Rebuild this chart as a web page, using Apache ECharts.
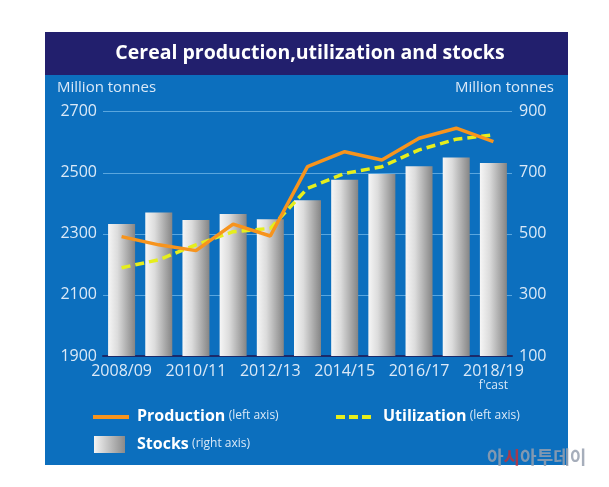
<!DOCTYPE html>
<html>
<head>
<meta charset="utf-8">
<script src="https://cdn.jsdelivr.net/npm/echarts@6/dist/echarts.min.js"></script>
<style>
html,body{margin:0;padding:0;background:#ffffff;}
#chart{width:609px;height:487px;}
</style>
</head>
<body>
<div id="chart"></div>
<script>
const categories = ['2008/09','2009/10','2010/11','2011/12','2012/13','2013/14','2014/15','2015/16','2016/17','2017/18','2018/19'];
const production = [2291, 2264, 2245, 2332, 2293, 2520, 2569, 2542, 2613, 2646, 2602];
const utilization = [2189, 2215, 2264, 2307, 2318, 2449, 2498, 2520, 2575, 2610, 2624];
const stocks = [532, 570, 545, 565, 548, 610, 677, 696, 721, 750, 732];
const leftTicks = [1900, 2100, 2300, 2500, 2700];
const rightTicks = [100, 300, 500, 700, 900];

const FONT = '"Open Sans", "Noto Sans", sans-serif';
const BLUE = '#0c6fbe';
const NAVY = '#221f6d';
const TXT = '#dbe9f7';

const chart = echarts.init(document.getElementById('chart'), null, {renderer: 'canvas'});
const option = {
  backgroundColor: '#ffffff',
  animation: false,
  textStyle: {fontFamily: FONT},
  graphic: [
    {type: 'rect', z: -10, shape: {x: 45, y: 32, width: 523, height: 433}, style: {fill: BLUE}},
    {type: 'rect', z: -9, shape: {x: 45, y: 32, width: 523, height: 43}, style: {fill: NAVY}},
    {type: 'text', x: 310, y: 53, style: {text: 'Cereal production,utilization and stocks', fill: '#ffffff', font: 'bold 19.5px ' + FONT, textAlign: 'center', textVerticalAlign: 'middle'}},
    {type: 'text', x: 57, y: 88, style: {text: 'Million tonnes', fill: TXT, font: '15px ' + FONT, textAlign: 'left', textVerticalAlign: 'middle'}},
    {type: 'text', x: 554, y: 88, style: {text: 'Million tonnes', fill: TXT, font: '15px ' + FONT, textAlign: 'right', textVerticalAlign: 'middle'}},
    // legend
    {type: 'line', shape: {x1: 93, y1: 417, x2: 129, y2: 417}, style: {stroke: '#f7941d', lineWidth: 4}},
    {type: 'text', x: 137, y: 416, style: {rich: {b: {fill: '#ffffff', font: 'bold 16px ' + FONT}, s: {fill: TXT, font: '12px ' + FONT}}, text: '{b|Production} {s|(left axis)}', textVerticalAlign: 'middle'}},
    {type: 'line', shape: {x1: 336, y1: 417, x2: 372, y2: 417}, style: {stroke: '#e6ee1c', lineWidth: 4, lineDash: [9, 4]}},
    {type: 'text', x: 383, y: 416, style: {rich: {b: {fill: '#ffffff', font: 'bold 16px ' + FONT}, s: {fill: TXT, font: '12px ' + FONT}}, text: '{b|Utilization} {s|(left axis)}', textVerticalAlign: 'middle'}},
    {type: 'rect', shape: {x: 94, y: 436, width: 31, height: 17}, style: {fill: {type: 'linear', x: 0, y: 0, x2: 1, y2: 0, colorStops: [{offset: 0, color: '#f4f4f4'}, {offset: 1, color: '#8a8a8a'}]}}},
    {type: 'text', x: 137, y: 444, style: {rich: {b: {fill: '#ffffff', font: 'bold 16px ' + FONT}, s: {fill: TXT, font: '12px ' + FONT}}, text: '{b|Stocks} {s|(right axis)}', textVerticalAlign: 'middle'}},
    // watermark
    {type: 'text', x: 487, y: 457, z: 100, style: {rich: {g: {fill: 'rgba(150,160,175,0.85)', font: 'bold 18px "Noto Sans CJK KR", sans-serif'}, r: {fill: 'rgba(190,50,60,0.85)', font: 'bold 18px "Noto Sans CJK KR", sans-serif'}}, text: '{g|아}{r|시}{g|아투데이}', textVerticalAlign: 'middle'}}
  ],
  grid: {left: 103, right: 97, top: 111.7, bottom: 131, containLabel: false},
  xAxis: {
    type: 'category',
    data: categories,
    boundaryGap: true,
    axisLine: {show: true, lineStyle: {color: '#1b2a6a', width: 2}},
    axisTick: {show: false},
    axisLabel: {
      interval: 1,
      color: TXT,
      fontFamily: FONT,
      fontSize: 16,
      margin: 7,
      formatter: function (v) { return v === '2018/19' ? v + '\n{s|f\'cast}' : v; },
      rich: {s: {fontSize: 12, color: TXT, fontFamily: FONT, lineHeight: 14}}
    },
    splitLine: {show: false}
  },
  yAxis: [
    {
      type: 'value', min: leftTicks[0], max: leftTicks[leftTicks.length - 1], interval: 200,
      position: 'left',
      axisLine: {show: false}, axisTick: {show: false},
      axisLabel: {color: TXT, fontFamily: FONT, fontSize: 16, margin: 6, formatter: function (v) { return String(v); }},
      splitLine: {show: true, lineStyle: {color: '#5aa6de', width: 1}}
    },
    {
      type: 'value', min: rightTicks[0], max: rightTicks[rightTicks.length - 1], interval: 200,
      position: 'right',
      axisLine: {show: false}, axisTick: {show: false},
      axisLabel: {color: TXT, fontFamily: FONT, fontSize: 16, margin: 7, formatter: function (v) { return String(v); }},
      splitLine: {show: false}
    }
  ],
  series: [
    {
      name: 'Stocks', type: 'bar', yAxisIndex: 1, data: stocks, barWidth: 27,
      itemStyle: {color: {type: 'linear', x: 0, y: 0, x2: 1, y2: 0, colorStops: [{offset: 0, color: '#f6f6f6'}, {offset: 0.35, color: '#dcdcdc'}, {offset: 1, color: '#858585'}]}},
      z: 2
    },
    {
      name: 'Utilization', type: 'line', yAxisIndex: 0, data: utilization, showSymbol: false, symbol: 'none',
      lineStyle: {color: '#e6ee1c', width: 3.5, type: [9, 5]}, z: 3
    },
    {
      name: 'Production', type: 'line', yAxisIndex: 0, data: production, showSymbol: false, symbol: 'none',
      lineStyle: {color: '#f7941d', width: 3.5}, z: 4
    }
  ]
};
chart.setOption(option);
</script>
</body>
</html>
